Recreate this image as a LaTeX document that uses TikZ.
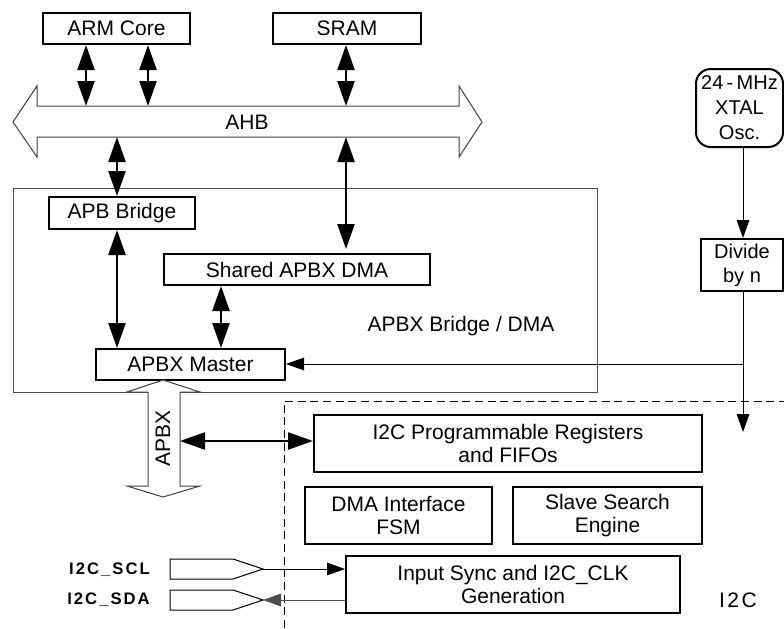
\documentclass[tikz,border=0pt]{standalone}
\usepackage{fontspec}
\setmainfont{Liberation Sans}
\usetikzlibrary{arrows.meta}
\begin{document}
\begin{tikzpicture}[x=0.75pt,y=-0.75pt,
  box/.style={draw, line width=1.5pt, inner sep=0pt, align=center,
    font=\fontsize{15.75}{17.25}\selectfont},
  lbl/.style={inner sep=0pt, font=\fontsize{15.75}{17.25}\selectfont},
  padlbl/.style={inner sep=0pt, anchor=east,
    font=\fontsize{12.5}{14}\selectfont\bfseries\addfontfeature{LetterSpace=12}},
  bigbus/.style={line width=1.8pt,
    {Triangle[length=18.75pt,width=12.75pt]}-{Triangle[length=18.75pt,width=12.75pt]}},
  clk/.style={line width=0.75pt, -{Triangle[length=13.5pt,width=9.5pt]}},
  hollow/.style={draw=black!75, line width=0.75pt, fill=white, line join=miter},
  frame/.style={draw=black!70, line width=0.75pt}
]
\useasboundingbox (0,0) rectangle (784,628);

% outer APBX Bridge / DMA frame
\draw[frame] (13,188) rectangle (597,392);
% dashed I2C frame
\draw[dashed, line width=0.75pt, dash pattern=on 6pt off 3.5pt] (284,628) -- (284,401) -- (784,401);

% AHB bus (hollow double arrow)
\draw[hollow] (13,122) -- (37,86) -- (37,106) -- (459,106) -- (459,86) -- (482,122)
  -- (459,157) -- (459,137) -- (37,137) -- (37,157) -- cycle;
\node[lbl] (ahb) at (247,122) {AHB};

% blocks
\node[box, minimum width=110.25pt, minimum height=23.25pt] (arm) at (116.5,28.5) {ARM Core};
\node[box, minimum width=111pt, minimum height=23.25pt] (sram) at (347,28.5) {SRAM};
\node[box, minimum width=109.5pt, minimum height=24pt] (apb) at (122,213) {APB Bridge};
\node[box, minimum width=199.5pt, minimum height=23.25pt] (dma) at (297,269.5) {Shared APBX DMA};
\node[box, minimum width=141.75pt, minimum height=23.25pt] (master) at (190.5,364.5) {APBX Master};
\node[box, rounded corners=11pt, minimum width=65.25pt, minimum height=58.5pt,
  font=\fontsize{15}{18.75}\selectfont] (osc) at (739.5,108) {24\,-\,MHz\\XTAL\\Osc.};
\node[box, minimum width=61.5pt, minimum height=39pt,
  font=\fontsize{15}{18}\selectfont] (div) at (742,265) {Divide\\by n};
\node[box, minimum width=291pt, minimum height=42.75pt] (prog) at (508,443.5)
  {I2C Programmable Registers\\and FIFOs};
\node[box, minimum width=140.25pt, minimum height=42.75pt] (fsm) at (398.5,515.5)
  {DMA Interface\\FSM};
\node[box, minimum width=141.75pt, minimum height=42.75pt] (slave) at (607.5,515.5)
  {Slave Search\\Engine};
\node[box, minimum width=250.5pt, minimum height=42.75pt] (sync) at (513,584.5)
  {Input Sync and I2C\_CLK\\Generation};

\node[lbl] (bridgelbl) at (461,326) {APBX Bridge / DMA};
\node[lbl, font=\fontsize{15.75}{17}\selectfont\addfontfeature{LetterSpace=12}] (i2clbl) at (738,600) {I2C};

% AHB connection points
\coordinate (a1) at (86,106);
\coordinate (a2) at (148,106);
\coordinate (a3) at (346,106);
\coordinate (b1) at (117,137);
\coordinate (b2) at (346,137);

\draw[bigbus] (arm.south -| a1) -- (a1);
\draw[bigbus] (arm.south -| a2) -- (a2);
\draw[bigbus] (sram.south -| a3) -- (a3);
\draw[bigbus] (b1) -- (apb.north -| b1);
\draw[bigbus] (b2) -- ([yshift=3pt]dma.north -| b2);
\draw[bigbus] (apb.south -| b1) -- (master.north -| b1);
\coordinate (d1) at (221,0);
\draw[bigbus] (dma.south -| d1) -- (master.north -| d1);

% APBX bus (hollow vertical double arrow)
\draw[hollow] (163,380) -- (200,392) -- (180,392) -- (180,486) -- (200,486) -- (163,497)
  -- (127,486) -- (148,486) -- (148,392) -- (127,392) -- cycle;
\node[lbl, rotate=90] (apbx) at (163,438) {APBX};
\coordinate (p1) at (180,441);
\draw[bigbus] (p1) -- (prog.west |- p1);

% clock
\coordinate (ck) at (743,364);
\coordinate (ckend) at (743,432);
\draw[clk] (osc.south -| ck) -- (div.north -| ck);
\draw[clk] (div.south -| ck) -- (ckend);
\draw[clk] (ck) -- (master.east |- ck);

% pads
\draw[line width=0.75pt] (170,559) -- (233,559) -- (263,569) -- (233,579) -- (170,579) -- cycle;
\draw[line width=0.75pt] (170,590) -- (233,590) -- (263,600) -- (233,610) -- (170,610) -- cycle;
\coordinate (scl) at (263,569);
\coordinate (sda) at (263,600);
\node[padlbl] (scllbl) at (150,570) {I2C\_SCL};
\node[padlbl] (sdalbl) at (150,600) {I2C\_SDA};
\draw[clk] (scl) -- (sync.west |- scl);
\draw[clk, draw=black!70] (sync.west |- sda) -- (sda);
\end{tikzpicture}
\end{document}
